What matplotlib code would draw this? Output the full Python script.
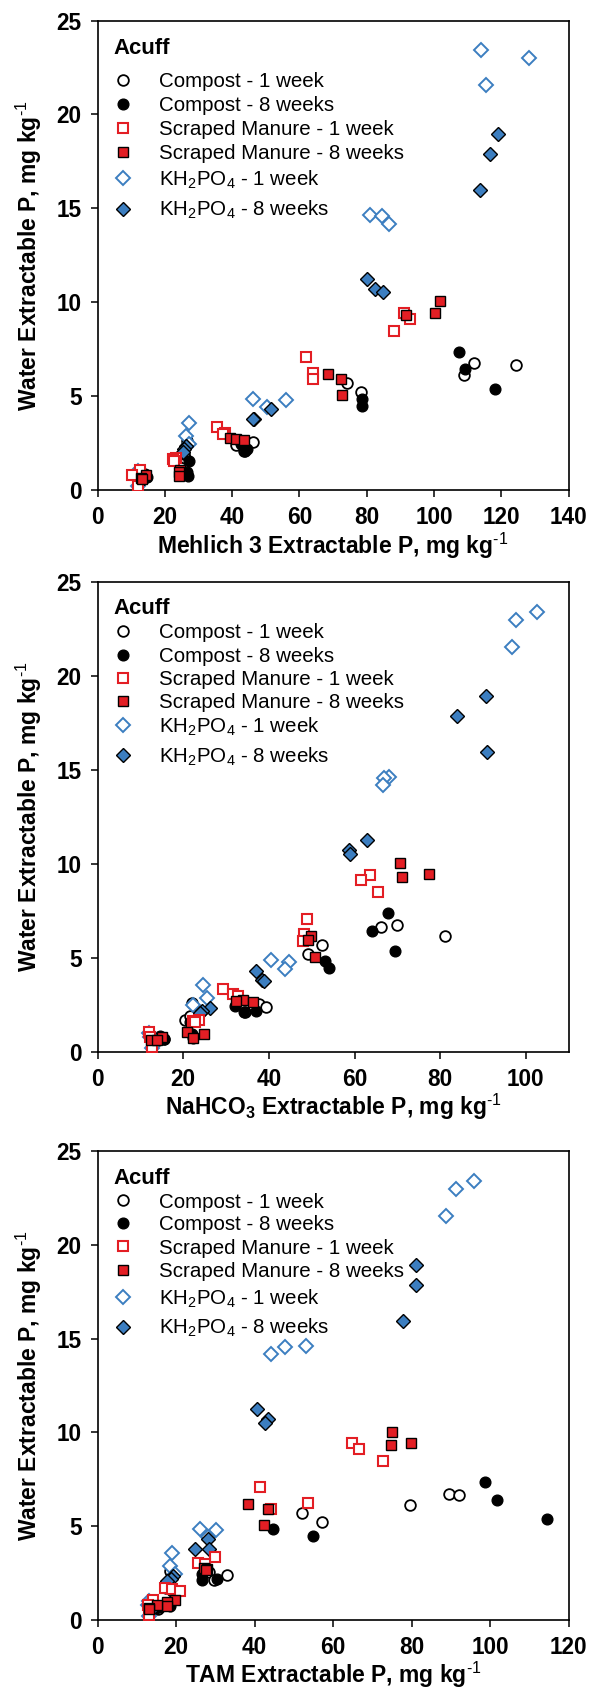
import matplotlib
matplotlib.use("Agg")
import matplotlib.pyplot as plt
from matplotlib.ticker import MultipleLocator

plt.rcParams['font.family'] = ['Liberation Sans', 'DejaVu Sans']
plt.rcParams['mathtext.fontset'] = 'custom'
plt.rcParams['mathtext.rm'] = 'Liberation Sans'
plt.rcParams['mathtext.bf'] = 'Liberation Sans:bold'
plt.rcParams['mathtext.default'] = 'regular'

# Water extractable P (mg/kg) for each treatment, shared by all three panels
wep_compost_1wk = [6.74, 6.64, 6.15, 5.68, 5.20, 2.55, 2.40, 2.10, 2.60, 1.70, 1.90, 0.80, 0.70, 0.60]
wep_compost_8wk = [7.36, 6.42, 5.37, 4.82, 4.46, 2.45, 2.18, 2.10, 1.56, 0.95, 0.74, 0.85, 0.70, 0.65]
wep_manure_1wk = [9.43, 9.12, 8.49, 7.07, 6.25, 5.92, 3.36, 3.05, 2.98, 1.70, 1.65, 1.56, 1.05, 0.80, 0.23]
wep_manure_8wk = [10.05, 9.45, 9.31, 6.17, 5.93, 5.04, 2.75, 2.70, 2.66, 1.06, 0.95, 0.75, 0.80, 0.63, 0.60]
wep_kh2po4_1wk = [23.43, 22.99, 21.55, 14.64, 14.58, 14.19, 4.87, 4.78, 4.40, 3.55, 2.85, 2.47, 1.00, 0.80, 0.20]
wep_kh2po4_8wk = [18.95, 17.88, 15.96, 11.26, 10.73, 10.52, 4.31, 3.80, 3.77, 2.35, 2.18, 2.05, 0.80, 0.70, 0.65]

# Mehlich 3 extractable P (mg/kg)
m3_compost_1wk = [111.9, 124.4, 108.8, 74.2, 78.3, 46.2, 41.0, 43.5, 26.5, 26.0, 25.8, 13.5, 14.5, 13.0]
m3_compost_8wk = [107.4, 109.2, 118.1, 78.6, 78.6, 42.5, 44.5, 43.8, 27.2, 26.5, 26.9, 14.0, 14.8, 13.5]
m3_manure_1wk = [91.0, 93.0, 88.2, 61.9, 64.1, 63.9, 35.6, 38.0, 37.3, 23.3, 22.4, 22.7, 12.6, 10.1, 12.1]
m3_manure_8wk = [101.8, 100.2, 91.8, 68.5, 72.3, 72.7, 39.3, 41.2, 43.4, 24.4, 24.3, 24.2, 14.3, 12.9, 13.2]
m3_kh2po4_1wk = [113.9, 128.2, 115.4, 80.9, 84.6, 86.6, 46.3, 56.1, 50.4, 27.3, 26.2, 27.2, 12.1, 12.5, 12.1]
m3_kh2po4_8wk = [119.1, 116.7, 113.8, 80.1, 82.6, 84.9, 51.5, 46.6, 46.2, 26.2, 25.7, 25.4, 13.5, 14.0, 13.8]

# NaHCO3 extractable P (mg/kg)
na_compost_1wk = [70.0, 66.3, 81.1, 52.3, 49.2, 37.6, 39.3, 34.5, 22.0, 20.5, 21.5, 13.0, 15.5, 14.0]
na_compost_8wk = [67.8, 64.2, 69.5, 53.2, 54.0, 32.2, 36.9, 34.3, 21.5, 22.0, 22.2, 14.5, 15.5, 13.0]
na_manure_1wk = [63.6, 61.6, 65.5, 49.0, 48.2, 48.0, 29.2, 31.6, 32.9, 23.6, 22.2, 22.7, 11.9, 12.3, 12.8]
na_manure_8wk = [70.7, 77.3, 71.0, 49.8, 49.2, 50.8, 33.9, 32.4, 36.3, 20.9, 24.9, 22.2, 15.0, 12.5, 13.9]
na_kh2po4_1wk = [102.6, 97.6, 96.7, 68.0, 67.0, 66.7, 40.6, 44.6, 43.8, 24.7, 25.6, 22.2, 11.9, 12.3, 12.8]
na_kh2po4_8wk = [90.6, 84.0, 91.0, 62.9, 58.7, 59.0, 37.1, 38.5, 38.8, 26.2, 24.3, 24.0, 12.5, 13.0, 13.5]

# TAM extractable P (mg/kg)
tam_compost_1wk = [89.6, 92.1, 79.6, 52.2, 57.1, 28.5, 32.9, 29.7, 18.5, 17.5, 18.0, 13.5, 14.5, 15.5]
tam_compost_8wk = [98.7, 101.7, 114.4, 44.6, 54.9, 26.7, 30.3, 26.7, 19.0, 18.6, 18.5, 14.0, 16.0, 15.0]
tam_manure_1wk = [64.8, 66.7, 72.8, 41.3, 53.7, 44.1, 29.8, 25.7, 27.4, 17.1, 19.0, 21.1, 14.2, 12.8, 13.0]
tam_manure_8wk = [74.9, 79.8, 74.7, 38.2, 43.5, 42.4, 27.1, 27.9, 27.6, 19.7, 17.6, 17.8, 15.2, 13.0, 13.0]
tam_kh2po4_1wk = [95.9, 91.3, 88.8, 53.0, 47.8, 44.1, 26.0, 30.1, 28.0, 18.9, 18.5, 19.6, 13.0, 12.8, 13.0]
tam_kh2po4_8wk = [81.2, 81.2, 77.8, 40.6, 43.5, 42.6, 28.2, 28.4, 24.8, 19.2, 18.7, 17.8, 13.5, 13.2, 14.0]

series_labels = ["Compost - 1 week", "Compost - 8 weeks",
                 "Scraped Manure - 1 week", "Scraped Manure - 8 weeks",
                 "KH$_2$PO$_4$ - 1 week", "KH$_2$PO$_4$ - 8 weeks"]
x_axis_labels = [r"Mehlich 3 Extractable P, mg kg$^{\text{-1}}$",
                 r"NaHCO$_3$ Extractable P, mg kg$^{\text{-1}}$",
                 r"TAM Extractable P, mg kg$^{\text{-1}}$"]
y_axis_label = r"Water Extractable P, mg kg$^{\text{-1}}$"
legend_title = "Acuff"
x_limits = [140, 110, 120]

RED = "#E31E24"
BLUE = "#3C7EC0"
styles = [
    dict(marker="o", ms=7.7, mfc="white", mec="black", mew=1.3, zorder=3),
    dict(marker="o", ms=7.7, mfc="black", mec="black", mew=1.0, zorder=4),
    dict(marker="s", ms=7.2, mfc="white", mec=RED, mew=1.5, zorder=7),
    dict(marker="s", ms=7.2, mfc=RED, mec="black", mew=1.0, zorder=8),
    dict(marker="D", ms=6.8, mfc="white", mec=BLUE, mew=1.4, zorder=5),
    dict(marker="D", ms=6.8, mfc=BLUE, mec="black", mew=1.0, zorder=6),
]

wep = [wep_compost_1wk, wep_compost_8wk, wep_manure_1wk, wep_manure_8wk,
       wep_kh2po4_1wk, wep_kh2po4_8wk]
panels = [
    [m3_compost_1wk, m3_compost_8wk, m3_manure_1wk, m3_manure_8wk, m3_kh2po4_1wk, m3_kh2po4_8wk],
    [na_compost_1wk, na_compost_8wk, na_manure_1wk, na_manure_8wk, na_kh2po4_1wk, na_kh2po4_8wk],
    [tam_compost_1wk, tam_compost_8wk, tam_manure_1wk, tam_manure_8wk, tam_kh2po4_1wk, tam_kh2po4_8wk],
]

W_PX, H_PX = 589, 1700
fig = plt.figure(figsize=(W_PX / 100, H_PX / 100), dpi=100)

# axes boxes in pixels: left, top, width, height
axes_px = [
    (97.6, 20.6, 471.0, 469.4),
    (97.6, 582.2, 471.0, 469.5),
    (97.6, 1151.4, 471.0, 468.4),
]
# legend layout, pixel offsets from the axes top-left corner
title_offsets = [25.5, 24.3, 24.6]
row_offsets = [
    [59.0, 83.3, 107.3, 131.2, 157.6, 188.0],
    [48.6, 72.5, 95.7, 118.9, 142.9, 173.2],
    [48.8, 71.6, 95.0, 118.5, 145.6, 175.3],
]
TITLE_X, MARKER_X, TEXT_X = 16.2, 25.6, 61.4
LEG_FS, TITLE_FS = 14.8, 15.9

for (l, t, w, h), xs_all, xlab, xmax, t_off, rows in zip(
        axes_px, panels, x_axis_labels, x_limits, title_offsets, row_offsets):
    ax = fig.add_axes([l / W_PX, 1 - (t + h) / H_PX, w / W_PX, h / H_PX])
    for xs, ys, st, lab in zip(xs_all, wep, styles, series_labels):
        ax.plot(xs, ys, linestyle="none", label=lab, **st)
    ax.set_xlim(0, xmax)
    ax.set_ylim(0, 25)
    ax.xaxis.set_major_locator(MultipleLocator(20))
    ax.yaxis.set_major_locator(MultipleLocator(5))
    for s in ax.spines.values():
        s.set_linewidth(1.2)
    ax.tick_params(axis="both", direction="out", length=5.0, width=1.1,
                   labelsize=16.3, pad=6.5)
    ax.tick_params(top=False, right=False)
    for lbl in ax.get_xticklabels() + ax.get_yticklabels():
        lbl.set_fontweight("bold")
    ax.set_xlabel(xlab, fontsize=16.5, fontweight="bold", labelpad=1)
    ax.set_ylabel(y_axis_label, fontsize=16.5, fontweight="bold", labelpad=9)

    # legend block: bold site name, then one marker + label per series
    cap_t = 0.716 * TITLE_FS * 100 / 72
    cap_l = 0.716 * LEG_FS * 100 / 72
    ax.text(TITLE_X / w, 1 - (t_off + cap_t / 2) / h, legend_title,
            transform=ax.transAxes, fontsize=TITLE_FS, fontweight="bold",
            ha="left", va="baseline")
    for (lab, st), r in zip(zip(series_labels, styles), rows):
        ax.plot([MARKER_X / w], [1 - r / h], transform=ax.transAxes,
                linestyle="none", clip_on=False,
                **{k: v for k, v in st.items() if k != "zorder"}, zorder=9)
        ax.text(TEXT_X / w, 1 - (r + cap_l / 2) / h, lab,
                transform=ax.transAxes, fontsize=LEG_FS, ha="left",
                va="baseline")

fig.savefig("out.png", dpi=100)
